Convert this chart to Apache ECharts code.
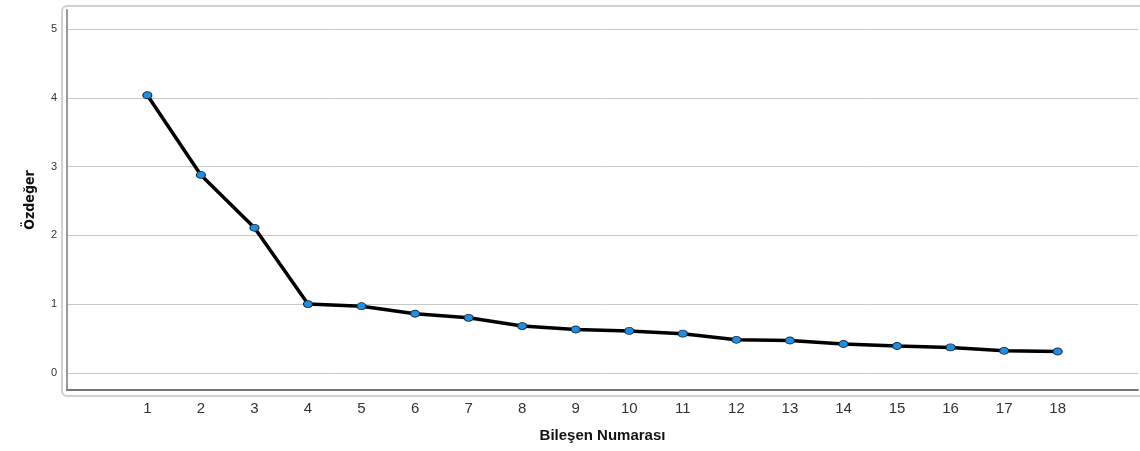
<!DOCTYPE html>
<html><head><meta charset="utf-8">
<script src="https://cdn.jsdelivr.net/npm/echarts@6/dist/echarts.min.js"></script>
<style>html,body{margin:0;padding:0;background:#fff}#c{width:1140px;height:451px}</style>
</head><body><div id="c"></div>
<script>
const components = [1,2,3,4,5,6,7,8,9,10,11,12,13,14,15,16,17,18];
const eigenvalues = [4.04,2.88,2.11,1.00,0.97,0.86,0.80,0.68,0.63,0.61,0.57,0.48,0.47,0.42,0.39,0.37,0.32,0.31];
const yTicks = [0,1,2,3,4,5];
const xTitle = 'Bileşen Numarası';
const yTitle = 'Özdeğer';

const chart = echarts.init(document.getElementById('c'));
chart.setOption({
  animation:false,
  graphic:[{type:'rect',shape:{x:62,y:6,width:1100,height:390,r:5},style:{fill:'none',stroke:'#cfcfcf',lineWidth:2},z:-1}],
  grid:{left:67,top:10,right:2,bottom:61},
  xAxis:{type:'value',min:-0.5,max:19.5,
    name:xTitle,nameLocation:'middle',nameGap:38,
    nameTextStyle:{fontFamily:'Liberation Sans',fontWeight:'bold',fontSize:15,color:'#111'},
    axisLine:{show:true,onZero:false,lineStyle:{color:'#777',width:2}},
    axisTick:{show:false,customValues:components},
    axisLabel:{customValues:components,fontFamily:'Liberation Sans',fontSize:15,color:'#333',margin:11},
    splitLine:{show:false}},
  yAxis:{type:'value',min:-0.25,max:5.28,
    name:yTitle,nameLocation:'middle',nameGap:30,nameRotate:90,
    nameTextStyle:{fontFamily:'"DejaVu Sans Condensed", "Liberation Sans", sans-serif',fontWeight:'bold',fontSize:14,color:'#111'},
    axisLine:{show:true,onZero:false,lineStyle:{color:'#999',width:2}},
    axisTick:{show:false,customValues:yTicks},
    axisLabel:{customValues:yTicks,fontFamily:'Liberation Sans',fontSize:11,color:'#333',margin:10},
    splitLine:{show:true,lineStyle:{color:'#c8c8c8',width:1}}},
  series:[{type:'line',data:components.map((c,i)=>[c,eigenvalues[i]]),
    lineStyle:{color:'#000',width:3.5},
    symbol:'circle',symbolSize:[9,7],
    itemStyle:{color:'#1e8fe1',borderColor:'#1a2a40',borderWidth:1}}]
});
</script></body></html>
